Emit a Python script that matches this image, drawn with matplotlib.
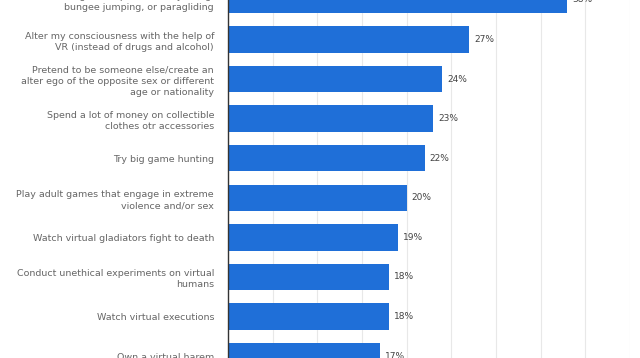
import matplotlib.pyplot as plt
import numpy as np

labels = [
    "Do extreme or dangerous sports like skydiving,\nbungee jumping, or paragliding",
    "Alter my consciousness with the help of\nVR (instead of drugs and alcohol)",
    "Pretend to be someone else/create an\nalter ego of the opposite sex or different\nage or nationality",
    "Spend a lot of money on collectible\nclothes otr accessories",
    "Try big game hunting",
    "Play adult games that engage in extreme\nviolence and/or sex",
    "Watch virtual gladiators fight to death",
    "Conduct unethical experiments on virtual\nhumans",
    "Watch virtual executions",
    "Own a virtual harem",
]
values = [38, 27, 24, 23, 22, 20, 19, 18, 18, 17]

fig = plt.figure(figsize=(6.4, 3.58), dpi=100)
ax = fig.add_axes([228 / 640, 0, (630 - 228) / 640, 1])

y = np.arange(len(values))
ax.barh(y, values, height=0.67, color="#1f6fd8", zorder=3)
for yi, v in zip(y, values):
    ax.text(v + 0.55, yi, f"{v}%", va="center", ha="left",
            fontsize=6.5, color="#444444")

ax.set_xlim(0, 45)
ax.set_ylim(9.05, 0.1)
ax.set_xticks(np.arange(0, 46, 5))
ax.xaxis.grid(True, color="#e8e8e8", linewidth=0.8, zorder=0)
ax.tick_params(axis="x", bottom=False, labelbottom=False)
ax.set_yticks(y)
ax.set_yticklabels(labels, fontsize=6.8, color="#666666", linespacing=1.35)
ax.tick_params(axis="y", length=0, pad=10)
for s in ["top", "right", "bottom"]:
    ax.spines[s].set_visible(False)
ax.spines["left"].set_color("#333333")
ax.spines["left"].set_linewidth(1.0)
ax.spines["left"].set_zorder(4)

fig.savefig("out.png", dpi=100)
